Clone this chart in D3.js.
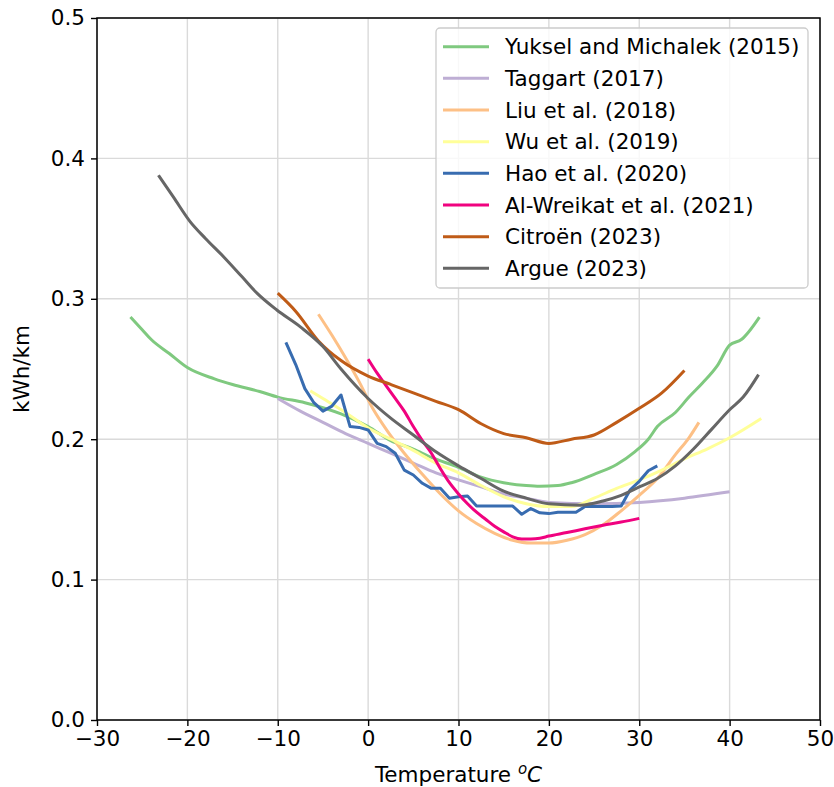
<!DOCTYPE html>
<html>
<head>
<meta charset="utf-8">
<script src="https://cdn.jsdelivr.net/npm/d3@7"></script>
<style>
  body { margin: 0; background: #fff; }
  text { font-family: "DejaVu Sans", sans-serif; }
</style>
</head>
<body>
<div id="chart"></div>
<script>
// series names, in plotting order
const seriesNames = ["Yuksel and Michalek (2015)", "Taggart (2017)", "Liu et al. (2018)", "Wu et al. (2019)",
  "Hao et al. (2020)", "Al-Wreikat et al. (2021)", "Citroën (2023)", "Argue (2023)"];
const seriesColors = ["#7fc97f", "#beaed4", "#fdc086", "#ffff99", "#386cb0", "#f0027f", "#bf5b17", "#666666"];

// [temperature, kWh/km]
const yuksel = [[-26.3,0.287],[-25,0.278],[-24,0.271],[-22,0.261],[-20,0.251],[-17,0.243],[-15,0.239],[-12,0.234],
  [-10,0.230],[-7,0.226],[-3,0.218],[0,0.209],[2.5,0.199],[5,0.193],[7,0.187],[10,0.180],[12.5,0.173],[15,0.169],
  [17.5,0.167],[19,0.1665],[21,0.167],[22.5,0.169],[25,0.175],[27.5,0.182],[29.5,0.191],[31,0.200],[32,0.209],
  [34,0.219],[35.5,0.230],[37,0.240],[38.6,0.252],[40,0.267],[41.3,0.271],[43.3,0.287]];
const taggart = [[-10,0.229],[-7.5,0.220],[-5,0.212],[-2.5,0.204],[0,0.197],[2.5,0.190],[5,0.183],[7.5,0.176],
  [10,0.171],[12.5,0.166],[15,0.161],[17.5,0.158],[20,0.155],[25,0.154],[30,0.155],[35,0.158],[40,0.1625]];
const liu = [[-5.5,0.289],[-4,0.274],[-2.5,0.258],[-1,0.241],[0.5,0.222],[2,0.207],[4,0.190],[6,0.175],[8,0.161],
  [10,0.149],[12,0.140],[14,0.133],[16,0.128],[18,0.126],[20,0.126],[22,0.128],[24,0.132],[26,0.139],[28,0.149],
  [30,0.160],[32,0.172],[34,0.189],[35.5,0.201],[36.6,0.212]];
const wu = [[-6.4,0.2345],[-5,0.229],[-2.5,0.219],[0,0.208],[2.5,0.200],[5,0.192],[7.5,0.183],[10,0.176],[12.5,0.167],
  [15,0.159],[17.5,0.154],[20,0.152],[22.5,0.152],[25,0.158],[27.5,0.165],[30,0.171],[32.5,0.178],[35,0.186],
  [37.5,0.193],[40,0.201],[43.5,0.2147]];
const hao = [[-9.1,0.269],[-8,0.253],[-7,0.236],[-6,0.226],[-5,0.220],[-4,0.2236],[-3,0.2315],[-2,0.209],[-1,0.2084],
  [0,0.2066],[1,0.197],[2,0.1947],[3,0.19],[4,0.178],[5,0.1745],[6,0.1686],[7,0.165],[8,0.165],[9,0.158],[10,0.159],
  [11,0.1595],[12,0.1524],[13,0.1524],[14,0.1524],[15,0.1524],[16,0.1524],[17,0.1465],[18,0.1506],[19,0.1476],
  [20,0.147],[21,0.148],[22,0.148],[23,0.148],[24,0.152],[25,0.152],[26,0.152],[27,0.152],[28,0.1524],[29,0.164],
  [30,0.170],[31,0.1775],[32,0.181]];
const alWreikat = [[0,0.257],[1,0.247],[2,0.238],[3,0.229],[4,0.220],[5,0.209],[6,0.199],[7,0.190],[8,0.179],
  [9,0.169],[10,0.161],[11,0.154],[12,0.148],[13,0.143],[14,0.138],[15,0.134],[16,0.1305],[17,0.129],[18,0.129],
  [19,0.1295],[20,0.131],[22,0.1335],[24,0.1362],[26,0.1387],[28,0.141],[30,0.1436]];
const citroen = [[-10,0.304],[-8,0.291],[-5.5,0.270],[-3,0.256],[0,0.245],[2.5,0.239],[5,0.233],[7.5,0.227],
  [10,0.221],[12.5,0.211],[15,0.204],[17.5,0.201],[20,0.197],[22.5,0.200],[25,0.203],[27.5,0.212],[30,0.222],
  [32.5,0.233],[35,0.249]];
const argue = [[-23.2,0.388],[-21.5,0.372],[-19.7,0.355],[-18,0.343],[-16,0.330],[-14,0.316],[-12.3,0.304],
  [-10.1,0.292],[-7.5,0.280],[-5,0.266],[-3,0.250],[0,0.229],[2.5,0.215],[5,0.203],[7.5,0.191],[10,0.181],
  [12.5,0.172],[15,0.163],[17.5,0.158],[20,0.154],[23.5,0.153],[26,0.156],[28,0.160],[30,0.166],[32,0.172],
  [34,0.181],[36,0.193],[38,0.207],[40,0.221],[41.5,0.230],[43.2,0.246]];

const xTicks = [-30, -20, -10, 0, 10, 20, 30, 40, 50];
const yTicks = [0.0, 0.1, 0.2, 0.3, 0.4, 0.5];

const allSeries = [yuksel, taggart, liu, wu, hao, alWreikat, citroen, argue];

const width = 834, height = 787;
const margin = { top: 18, right: 14, bottom: 67, left: 97 };
const fontSize = 21.5;

const svg = d3.select("#chart").append("svg")
  .attr("width", width)
  .attr("height", height);

const x = d3.scaleLinear().domain([-30, 50]).range([margin.left, width - margin.right]);
const y = d3.scaleLinear().domain([0, 0.5]).range([height - margin.bottom, margin.top]);

// grid
svg.append("g")
  .selectAll("line.vgrid")
  .data(xTicks)
  .enter().append("line")
    .attr("x1", d => x(d)).attr("x2", d => x(d))
    .attr("y1", y(0)).attr("y2", y(0.5))
    .attr("stroke", "#dadada").attr("stroke-width", 1.4);

svg.append("g")
  .selectAll("line.hgrid")
  .data(yTicks)
  .enter().append("line")
    .attr("y1", d => y(d)).attr("y2", d => y(d))
    .attr("x1", x(-30)).attr("x2", x(50))
    .attr("stroke", "#dadada").attr("stroke-width", 1.4);

// lines
const line = d3.line().x(d => x(d[0])).y(d => y(d[1]));
allSeries.forEach((s, i) => {
  svg.append("path")
    .datum(s)
    .attr("fill", "none")
    .attr("stroke", seriesColors[i])
    .attr("stroke-width", 3)
    .attr("stroke-linejoin", "round")
    .attr("d", line.curve(seriesNames[i].startsWith("Hao") ? d3.curveLinear : d3.curveMonotoneX));
});

// axes
const xAxis = d3.axisBottom(x).tickValues(xTicks).tickSize(6).tickPadding(5)
  .tickFormat(d => d < 0 ? "\u2212" + Math.abs(d) : d);
const yAxis = d3.axisLeft(y).tickValues(yTicks).tickSize(6).tickPadding(6).tickFormat(d3.format(".1f"));

const gx = svg.append("g")
  .attr("transform", "translate(0," + y(0) + ")")
  .call(xAxis);
const gy = svg.append("g")
  .attr("transform", "translate(" + x(-30) + ",0)")
  .call(yAxis);

[gx, gy].forEach(g => {
  g.select(".domain").remove();
  g.selectAll(".tick line").attr("stroke", "#000").attr("stroke-width", 1.4);
  g.selectAll(".tick text")
    .attr("fill", "#000")
    .style("font-size", fontSize + "px")
    .style("font-family", "DejaVu Sans");
});

// spines
svg.append("rect")
  .attr("x", x(-30)).attr("y", y(0.5))
  .attr("width", x(50) - x(-30)).attr("height", y(0) - y(0.5))
  .attr("fill", "none").attr("stroke", "#000").attr("stroke-width", 1.5);

// axis labels
const xl = svg.append("text")
  .attr("x", (x(-30) + x(50)) / 2)
  .attr("y", 782)
  .attr("text-anchor", "middle")
  .style("font-size", fontSize + "px")
  .attr("fill", "#000");
xl.append("tspan").text("Temperature ");
xl.append("tspan").attr("font-style", "italic").attr("dy", -8).style("font-size", "15px").text("o");
xl.append("tspan").attr("font-style", "italic").attr("dy", 8).text("C");

svg.append("text")
  .attr("transform", "translate(29," + ((y(0) + y(0.5)) / 2) + ") rotate(-90)")
  .attr("text-anchor", "middle")
  .style("font-size", fontSize + "px")
  .attr("fill", "#000")
  .text("kWh/km");

// legend
const legend = svg.append("g");
legend.append("rect")
  .attr("x", 436).attr("y", 28)
  .attr("width", 372).attr("height", 260)
  .attr("rx", 4)
  .attr("fill", "#fff").attr("fill-opacity", 0.8)
  .attr("stroke", "#cccccc").attr("stroke-width", 1.3);

seriesNames.forEach((name, i) => {
  const cy = 46.7 + i * 31.66;
  legend.append("line")
    .attr("x1", 443).attr("x2", 489)
    .attr("y1", cy).attr("y2", cy)
    .attr("stroke", seriesColors[i]).attr("stroke-width", 3);
  legend.append("text")
    .attr("x", 505).attr("y", cy)
    .attr("dy", "0.36em")
    .style("font-size", fontSize + "px")
    .attr("fill", "#000")
    .text(name);
});
</script>
</body>
</html>
